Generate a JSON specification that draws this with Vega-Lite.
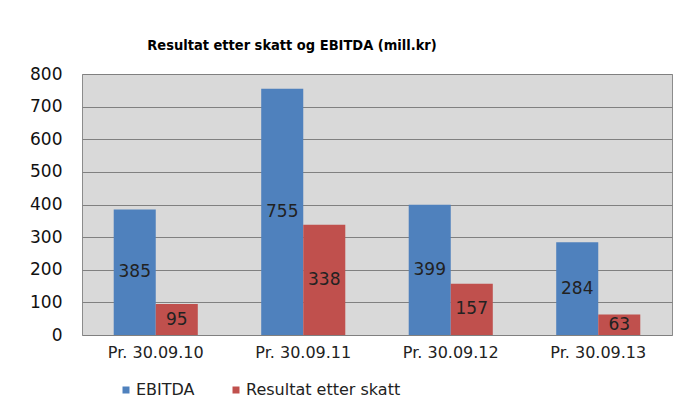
{
  "$schema": "https://vega.github.io/schema/vega-lite/v6.json",
  "autosize": "none",
  "width": 590,
  "height": 261,
  "padding": {"left": 82, "top": 74, "right": 8, "bottom": 68},
  "background": "white",
  "title": {
    "text": "Resultat etter skatt og EBITDA  (mill.kr)",
    "font": "DejaVu Sans Condensed",
    "fontSize": 14.5,
    "fontWeight": "bold",
    "color": "#000000",
    "anchor": "middle",
    "offset": 12,
    "dx": -85
  },
  "data": {
    "values": [
      {"period": "Pr. 30.09.10", "series": "EBITDA", "value": 385},
      {"period": "Pr. 30.09.10", "series": "Resultat etter skatt", "value": 95},
      {"period": "Pr. 30.09.11", "series": "EBITDA", "value": 755},
      {"period": "Pr. 30.09.11", "series": "Resultat etter skatt", "value": 338},
      {"period": "Pr. 30.09.12", "series": "EBITDA", "value": 399},
      {"period": "Pr. 30.09.12", "series": "Resultat etter skatt", "value": 157},
      {"period": "Pr. 30.09.13", "series": "EBITDA", "value": 284},
      {"period": "Pr. 30.09.13", "series": "Resultat etter skatt", "value": 63}
    ]
  },
  "encoding": {
    "x": {
      "field": "period",
      "type": "nominal",
      "sort": null,
      "scale": {"paddingInner": 0.43, "paddingOuter": 0.215},
      "axis": {
        "title": null,
        "labelAngle": 0,
        "labelFont": "DejaVu Sans",
        "labelFontSize": 16,
        "labelColor": "#222222",
        "labelPadding": 9,
        "ticks": false,
        "domain": false
      }
    },
    "xOffset": {"field": "series", "type": "nominal", "sort": ["EBITDA", "Resultat etter skatt"]}
  },
  "layer": [
    {
      "mark": {"type": "bar"},
      "encoding": {
        "y": {
          "field": "value",
          "type": "quantitative",
          "scale": {"domain": [0, 800]},
          "axis": {
            "title": null,
            "values": [0, 100, 200, 300, 400, 500, 600, 700, 800],
            "labelOverlap": false,
            "labelFont": "DejaVu Sans",
            "labelFontSize": 17,
            "labelColor": "#111111",
            "labelPadding": 20,
            "ticks": false,
            "domain": false,
            "grid": true,
            "gridColor": "#808080",
            "gridWidth": 1
          }
        },
        "color": {
          "field": "series",
          "type": "nominal",
          "sort": ["EBITDA", "Resultat etter skatt"],
          "scale": {"range": ["#4f81bd", "#c0504d"]},
          "legend": {
            "title": null,
            "orient": "none",
            "direction": "horizontal",
            "legendX": 36,
            "legendY": 308,
            "symbolType": "square",
            "symbolSize": 49,
            "symbolOpacity": 1,
            "symbolStrokeWidth": 0,
            "labelFont": "DejaVu Sans",
            "labelFontSize": 16,
            "labelColor": "#222222",
            "labelOffset": 2,
            "columnPadding": 33
          }
        }
      }
    },
    {
      "transform": [{"calculate": "datum.value / 2", "as": "mid"}],
      "mark": {"type": "text", "font": "DejaVu Sans", "fontSize": 17, "color": "#222222", "baseline": "middle"},
      "encoding": {
        "y": {
          "field": "mid",
          "type": "quantitative",
          "axis": {
            "title": null,
            "values": [0, 100, 200, 300, 400, 500, 600, 700, 800],
            "labelOverlap": false,
            "labelFont": "DejaVu Sans",
            "labelFontSize": 17,
            "labelColor": "#111111",
            "labelPadding": 20,
            "ticks": false,
            "domain": false,
            "grid": true,
            "gridColor": "#808080",
            "gridWidth": 1
          }
        },
        "text": {"field": "value", "type": "quantitative"}
      }
    }
  ],
  "config": {
    "view": {"fill": "#d9d9d9", "stroke": "#8c8c8c", "strokeWidth": 1}
  }
}
